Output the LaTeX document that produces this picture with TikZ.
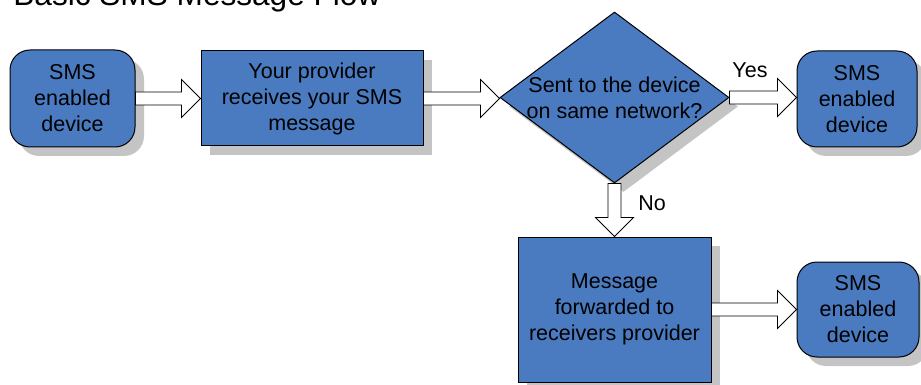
\documentclass[tikz,border=0pt]{standalone}
\usepackage{fontspec}
\setmainfont{Liberation Sans}
\usetikzlibrary{shapes.geometric,shadows,calc}
\definecolor{smsblue}{HTML}{4A7AC0}
\definecolor{shadowgray}{HTML}{C4C4C4}
\newcommand{\flowfont}{\fontsize{10.75}{13}\selectfont}
\tikzset{
  boxshadow/.style={drop shadow={shadow xshift=4.5pt, shadow yshift=-4.5pt,
                    fill=shadowgray, opacity=1}},
  flowbox/.style={fill=smsblue, draw=black, line width=0.5pt, boxshadow,
                  align=center, inner sep=0pt, font=\flowfont},
  device/.style={flowbox, rounded corners=10pt},
  decision/.style={flowbox, shape=diamond, aspect=1.34, inner xsep=-4pt},
  blockarrow/.style={fill=white, draw=black, line width=0.4pt},
  flowlabel/.style={font=\flowfont, inner sep=1pt}
}
% block arrows between named anchors
\newcommand{\rightflow}[2]{%
  \draw[blockarrow] let \p1=(#1), \p2=(#2) in
    (\x1,\y1+3.25pt) -- (\x2-9.5pt,\y1+3.25pt) -- (\x2-9.5pt,\y1+9.5pt)
    -- (\x2,\y1) -- (\x2-9.5pt,\y1-9.5pt) -- (\x2-9.5pt,\y1-3.25pt)
    -- (\x1,\y1-3.25pt) -- cycle;}
\newcommand{\downflow}[2]{%
  \draw[blockarrow] let \p1=(#1), \p2=(#2) in
    (\x1+3.25pt,\y1) -- (\x1+3.25pt,\y2+9.5pt) -- (\x1+9.5pt,\y2+9.5pt)
    -- (\x1,\y2) -- (\x1-9.5pt,\y2+9.5pt) -- (\x1-3.25pt,\y2+9.5pt)
    -- (\x1-3.25pt,\y1) -- cycle;}
\begin{document}
\begin{tikzpicture}[x=0.5pt, y=-0.5pt]
  \useasboundingbox (0,0) rectangle (921,385);
  \clip (0,0) rectangle (921,385);
  % title, cut at the top edge
  \node[anchor=base west, inner sep=0pt, font=\fontsize{15.8}{18}\selectfont]
    (title) at (13,6) {Basic SMS Message Flow};
  % boxes
  \node[device, minimum width=62.5pt, minimum height=48.5pt]
    (sender) at (72.5,98.5) {SMS\\enabled\\device};
  \node[flowbox, minimum width=111pt, minimum height=47.5pt]
    (provider) at (312,98.5) {Your provider\\receives your SMS\\message};
  \node[decision, minimum width=114.5pt, minimum height=85.5pt]
    (samenet) at (614.5,97.5) {Sent to the device\\on same network?};
  \node[device, minimum width=60pt, minimum height=48pt]
    (receiver) at (857,99) {SMS\\enabled\\device};
  \node[flowbox, minimum width=96.5pt, minimum height=72.5pt]
    (forward) at (614.5,309.5) {Message\\forwarded to\\receivers provider};
  \node[device, minimum width=61pt, minimum height=47.5pt]
    (remote) at (858,309.5) {SMS\\enabled\\device};
  % arrows
  \rightflow{sender.east}{provider.west}
  \rightflow{provider.east}{samenet.west}
  \rightflow{samenet.east}{receiver.west}
  \downflow{samenet.south}{forward.north}
  \rightflow{forward.east}{remote.west}
  \node[flowlabel] (yes) at (750,70) {Yes};
  \node[flowlabel] (no) at (652,203) {No};
\end{tikzpicture}
\end{document}
